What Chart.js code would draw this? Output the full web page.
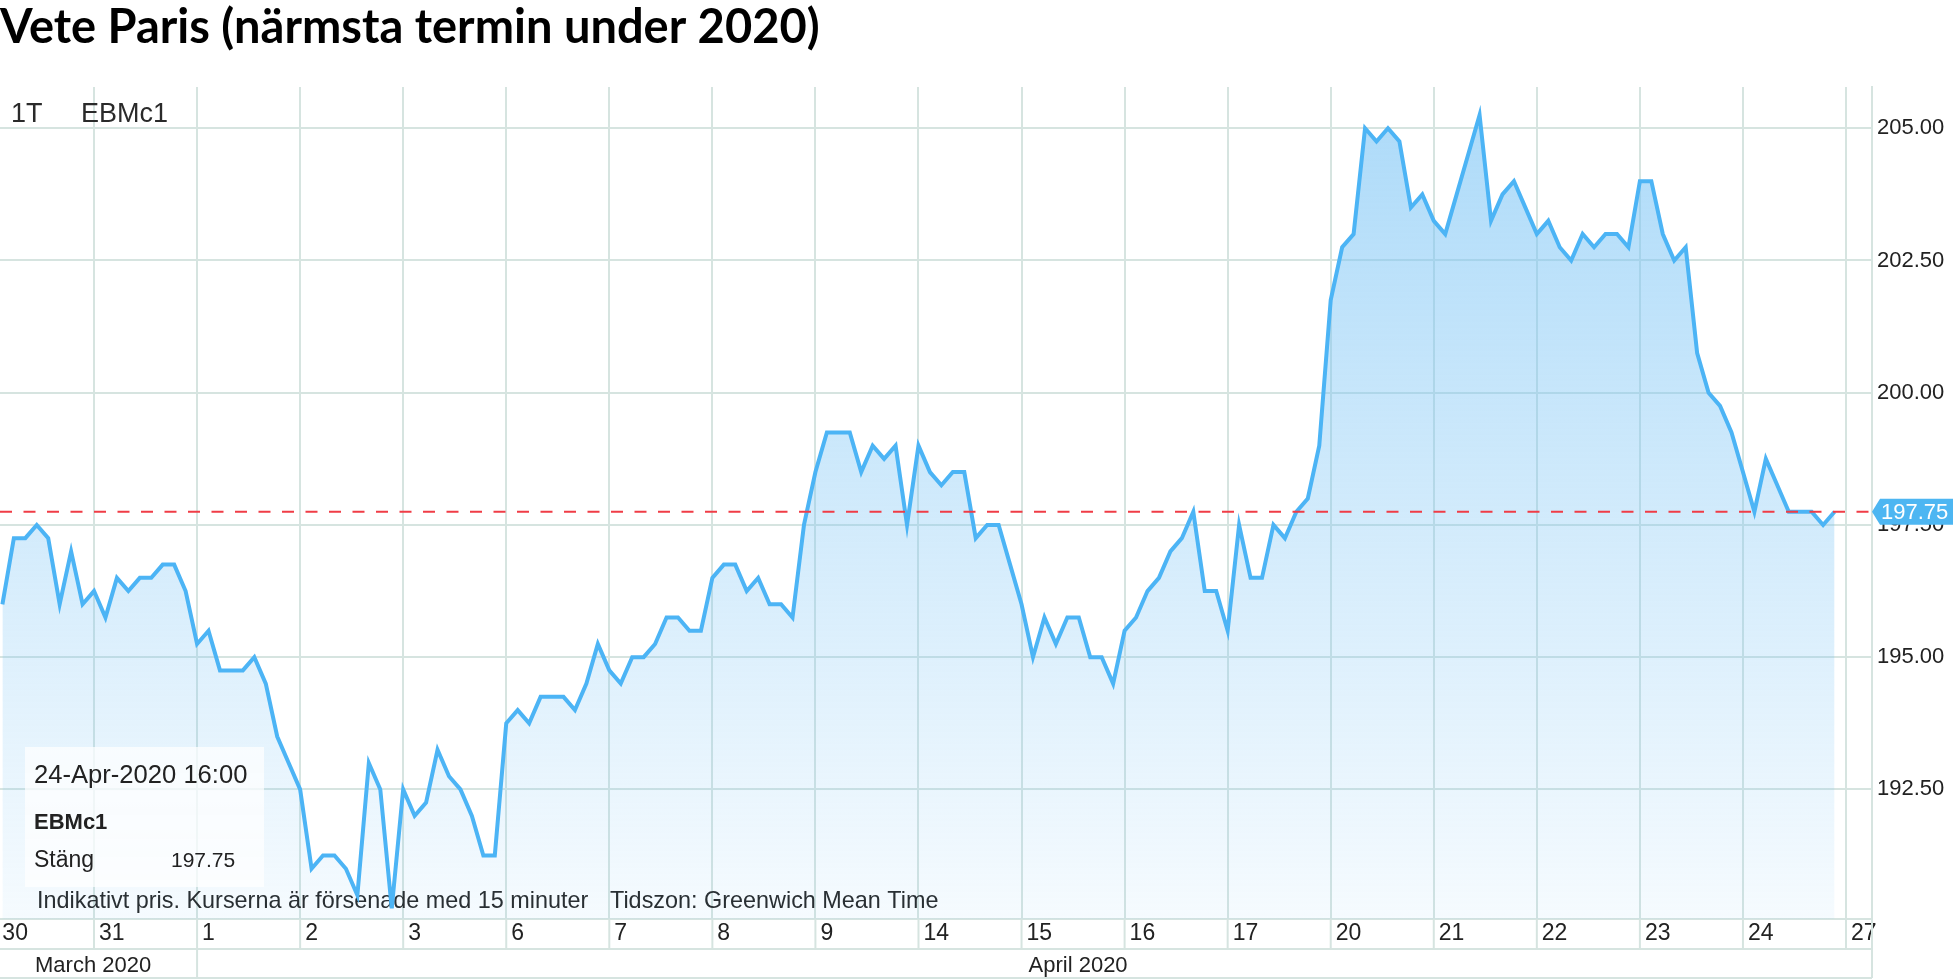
<!DOCTYPE html>
<html>
<head>
<meta charset="utf-8">
<script src="https://cdn.jsdelivr.net/npm/chart.js@4.4.0/dist/chart.umd.min.js"></script>
<style>
html,body{margin:0;padding:0;background:#fff;overflow:hidden}
canvas{display:block}
</style>
</head>
<body>
<canvas id="c" width="1953" height="980"></canvas>
<script>
// ---------- data ----------
const chartTitle = 'Vete Paris (närmsta termin under 2020)';
const dayLabels = ['30','31','1','2','3','6','7','8','9','14','15','16','17','20','21','22','23','24','27'];
const sessionHours = ['08:00','09:00','10:00','11:00','12:00','13:00','14:00','15:00','16:00'];
const monthLabels = ['March 2020','April 2020'];
const yTickValues = [192.5, 195, 197.5, 200, 202.5, 205];
const closes = [
  /* 30 Mar */ null, 196.0, 197.25, 197.25, 197.5, 197.25, 196.0, 197.0, 196.0,
  /* 31 Mar */ 196.25, 195.75, 196.5, 196.25, 196.5, 196.5, 196.75, 196.75, 196.25,
  /*  1 Apr */ 195.25, 195.5, 194.75, 194.75, 194.75, 195.0, 194.5, 193.5, 193.0,
  /*  2 Apr */ 192.5, 191.0, 191.25, 191.25, 191.0, 190.5, 193.0, 192.5, 190.25,
  /*  3 Apr */ 192.5, 192.0, 192.25, 193.25, 192.75, 192.5, 192.0, 191.25, 191.25,
  /*  6 Apr */ 193.75, 194.0, 193.75, 194.25, 194.25, 194.25, 194.0, 194.5, 195.25,
  /*  7 Apr */ 194.75, 194.5, 195.0, 195.0, 195.25, 195.75, 195.75, 195.5, 195.5,
  /*  8 Apr */ 196.5, 196.75, 196.75, 196.25, 196.5, 196.0, 196.0, 195.75, 197.5,
  /*  9 Apr */ 198.5, 199.25, 199.25, 199.25, 198.5, 199.0, 198.75, 199.0, 197.5,
  /* 14 Apr */ 199.0, 198.5, 198.25, 198.5, 198.5, 197.25, 197.5, 197.5, 196.75,
  /* 15 Apr */ 196.0, 195.0, 195.75, 195.25, 195.75, 195.75, 195.0, 195.0, 194.5,
  /* 16 Apr */ 195.5, 195.75, 196.25, 196.5, 197.0, 197.25, 197.75, 196.25, 196.25,
  /* 17 Apr */ 195.5, 197.5, 196.5, 196.5, 197.5, 197.25, 197.75, 198.0, 199.0,
  /* 20 Apr */ 201.75, 202.75, 203.0, 205.0, 204.75, 205.0, 204.75, 203.5, 203.75,
  /* 21 Apr */ 203.25, 203.0, 203.75, 204.5, 205.25, 203.25, 203.75, 204.0, 203.5,
  /* 22 Apr */ 203.0, 203.25, 202.75, 202.5, 203.0, 202.75, 203.0, 203.0, 202.75,
  /* 23 Apr */ 204.0, 204.0, 203.0, 202.5, 202.75, 200.75, 200.0, 199.75, 199.25,
  /* 24 Apr */ 198.5, 197.75, 198.75, 198.25, 197.75, 197.75, 197.75, 197.5, 197.75
];
const lastClose = 197.75;
const lastStamp = '24-Apr-2020 16:00';
const ric = 'EBMc1';
const period = '1T';
const closeLabel = 'Stäng';
const footnoteDelay = 'Indikativt pris. Kurserna är försenade med 15 minuter';
const footnoteZone = 'Tidszon: Greenwich Mean Time';

// ---------- styling ----------
const GRID = 'rgb(214,228,224)';
const LINE = '#4cb4f5';
const FONT = '"Liberation Sans", Arial, sans-serif';
const perDay = sessionHours.length;

const points = closes.map((c, i) => ({x: i, y: c}));

const overlay = {
  id: 'overlay',
  beforeDatasetsDraw(chart) {
    const {ctx, chartArea: a} = chart;
    ctx.save();
    ctx.textBaseline = 'middle';
    ctx.fillStyle = '#2a2a2a';
    ctx.font = '27px ' + FONT;
    ctx.fillText(period, a.left + 11, a.top + 28);
    ctx.fillText(ric, a.left + 81, a.top + 28);
    ctx.font = '23.4px ' + FONT;
    ctx.fillStyle = '#222';
    ctx.fillText(footnoteDelay, a.left + 37, a.bottom - 17);
    ctx.fillText(footnoteZone, a.left + 610, a.bottom - 17);
    ctx.restore();
  },
  afterDatasetsDraw(chart) {
    const {ctx, chartArea: a, scales: {y}} = chart;
    const py = y.getPixelForValue(lastClose);
    ctx.save();
    ctx.strokeStyle = '#f03c46';
    ctx.lineWidth = 2;
    ctx.setLineDash([12, 11.5]);
    ctx.beginPath();
    ctx.moveTo(a.left, py);
    ctx.lineTo(a.right, py);
    ctx.stroke();
    ctx.restore();
  },
  afterDraw(chart) {
    const {ctx, chartArea: a, scales: {x, y}} = chart;
    const rowTop = a.bottom;
    const rowMid = a.bottom + 30;
    const rowBot = a.bottom + 59;
    ctx.save();
    ctx.strokeStyle = GRID;
    ctx.lineWidth = 2;
    // day row vertical separators
    x.ticks.forEach(t => {
      const px = x.getPixelForValue(t.value);
      if (px < a.left || px > a.right) return;
      ctx.beginPath(); ctx.moveTo(px, rowTop); ctx.lineTo(px, rowMid); ctx.stroke();
    });
    // horizontal rows
    ctx.beginPath(); ctx.moveTo(a.left, rowMid); ctx.lineTo(a.right, rowMid); ctx.stroke();
    ctx.beginPath(); ctx.moveTo(a.left, rowBot); ctx.lineTo(a.right, rowBot); ctx.stroke();
    // right border through both rows
    ctx.beginPath(); ctx.moveTo(a.right, rowTop); ctx.lineTo(a.right, rowBot); ctx.stroke();
    // month separator at 1 April
    const aprX = x.getPixelForValue(dayLabels.indexOf('1') * perDay);
    ctx.beginPath(); ctx.moveTo(aprX, rowMid); ctx.lineTo(aprX, rowBot); ctx.stroke();
    // month labels
    ctx.fillStyle = '#222';
    ctx.font = '22px ' + FONT;
    ctx.textBaseline = 'middle';
    ctx.fillText(monthLabels[0], a.left + 35, rowMid + 17);
    ctx.fillText(monthLabels[1], x.getPixelForValue(dayLabels.indexOf('15') * perDay) + 7, rowMid + 17);

    // info box (lower left)
    ctx.fillStyle = 'rgba(255,255,255,0.72)';
    ctx.fillRect(a.left + 25, 747, 239, 140);
    ctx.fillStyle = '#222';
    ctx.font = '25.6px ' + FONT;
    ctx.fillText(lastStamp, a.left + 34, 776);
    ctx.font = 'bold 22px ' + FONT;
    ctx.fillText(ric, a.left + 34, 823);
    ctx.font = '23px ' + FONT;
    ctx.fillText(closeLabel, a.left + 34, 861);
    ctx.font = '21px ' + FONT;
    ctx.fillText(lastClose.toFixed(2), a.left + 171, 861);

    // last price marker on the right axis
    const py = y.getPixelForValue(lastClose);
    ctx.fillStyle = '#4db6f2';
    ctx.beginPath();
    ctx.moveTo(a.right, py);
    ctx.lineTo(a.right + 8, py - 13);
    ctx.lineTo(chart.width, py - 13);
    ctx.lineTo(chart.width, py + 13);
    ctx.lineTo(a.right + 8, py + 13);
    ctx.closePath();
    ctx.fill();
    ctx.fillStyle = '#fff';
    ctx.font = '22px ' + FONT;
    ctx.fillText(lastClose.toFixed(2), a.right + 9, py + 1);
    ctx.restore();
  }
};

new Chart(document.getElementById('c'), {
  type: 'line',
  data: {
    datasets: [{
      data: points,
      borderColor: LINE,
      borderWidth: 4,
      pointRadius: 0,
      tension: 0,
      spanGaps: false,
      fill: 'start',
      backgroundColor: (context) => {
        const area = context.chart.chartArea;
        if (!area) return 'rgba(120,195,245,0.4)';
        const g = context.chart.ctx.createLinearGradient(0, area.top, 0, area.bottom);
        g.addColorStop(0, 'rgba(120,195,245,0.62)');
        g.addColorStop(1, 'rgba(120,195,245,0.07)');
        return g;
      }
    }]
  },
  options: {
    responsive: false,
    animation: false,
    layout: {padding: 0},
    plugins: {
      legend: {display: false},
      tooltip: {enabled: false},
      title: {
        display: true,
        text: chartTitle,
        align: 'start',
        color: '#000',
        font: {family: 'Lato', size: 47, weight: 'bold', lineHeight: 1.2},
        padding: {top: 0, bottom: 30.6}
      }
    },
    scales: {
      x: {
        type: 'linear',
        min: 0.79,
        max: 164.27,
        afterBuildTicks: (s) => { s.ticks = dayLabels.map((d, i) => ({value: i * perDay})); },
        afterFit: (s) => { s.height = 61; s.paddingLeft = 0; s.paddingRight = 0; },
        grid: {
          color: (c) => (c.tick && c.tick.value < c.scale.min) ? 'rgba(0,0,0,0)' : GRID,
          lineWidth: 2, drawTicks: false
        },
        border: {display: true, color: GRID, width: 2},
        ticks: {
          autoSkip: false, maxRotation: 0, minRotation: 0,
          align: 'start', labelOffset: 5, padding: 1,
          color: '#222', font: {family: FONT, size: 23},
          callback: (v, i) => (i === 0 ? ' ' : '') + dayLabels[Math.round(v / perDay)]
        }
      },
      y: {
        position: 'right',
        min: 190.05,
        max: 205.78,
        afterBuildTicks: (s) => { s.ticks = yTickValues.map(v => ({value: v})); },
        afterFit: (s) => { s.width = 81; s.paddingTop = 0; s.paddingBottom = 0; },
        grid: {color: GRID, lineWidth: 2, drawTicks: false},
        border: {display: true, color: GRID, width: 2},
        ticks: {
          padding: 5, color: '#222', font: {family: FONT, size: 22},
          callback: (v) => Number(v).toFixed(2)
        }
      }
    }
  },
  plugins: [overlay]
});
</script>
</body>
</html>
